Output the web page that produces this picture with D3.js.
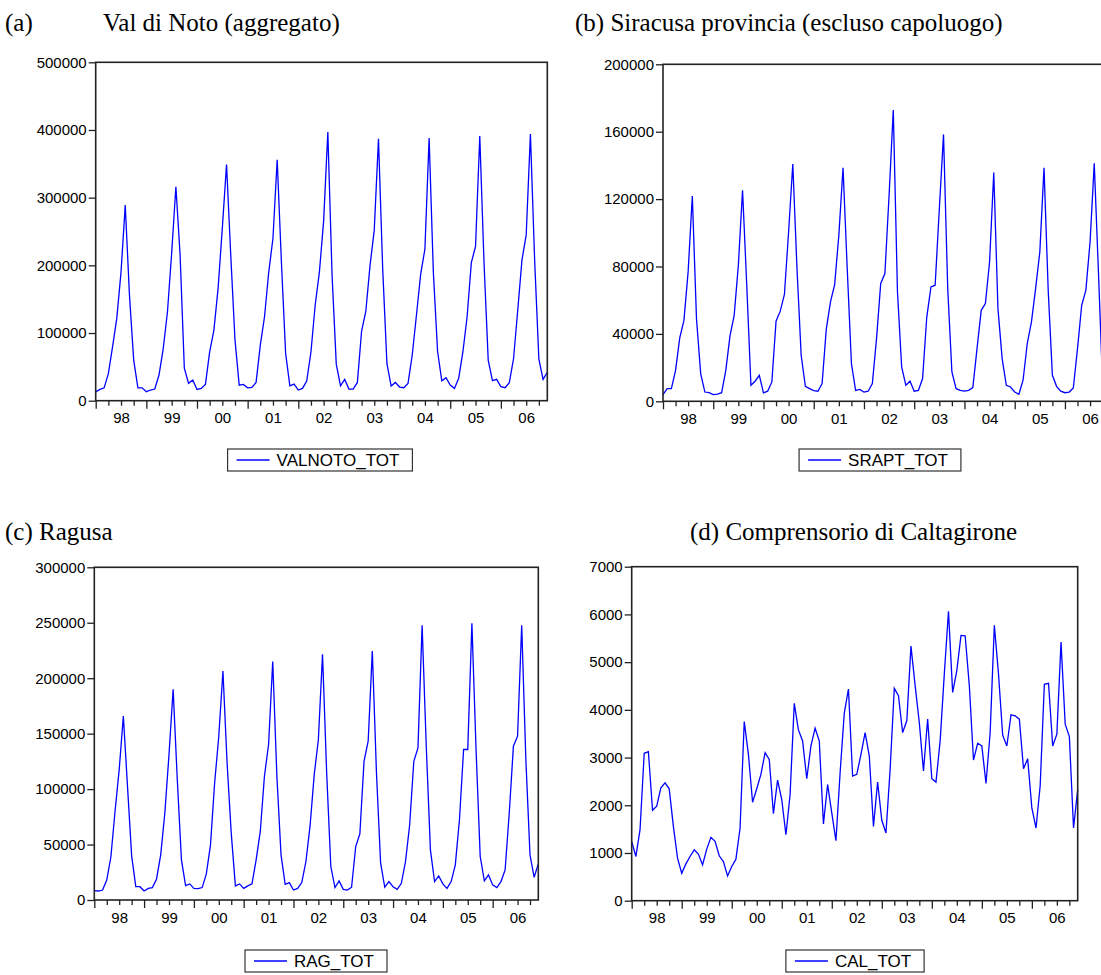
<!DOCTYPE html>
<html lang="it">
<head>
<meta charset="UTF-8">
<title>Val di Noto - serie mensili</title>
<script src="https://d3js.org/d3.v7.min.js"></script>
<style>
    body { margin: 0; background: #fff; }
    svg { display: block; }
    .title { font-family: "Liberation Serif", "Times New Roman", serif; font-size: 25px; fill: #000; }
    .axis text { font-family: "Liberation Sans", Arial, sans-serif; font-size: 15px; fill: #000; }
    .axis line { stroke: #222; stroke-width: 1.3; }
    .legend text { font-family: "Liberation Sans", Arial, sans-serif; font-size: 17px; fill: #000; }
</style>
</head>
<body>
<svg id="chart"></svg>
<script>
    // years on the x axis (monthly data, Jan 1998 - Dec 2006)
    const years = ["98", "99", "00", "01", "02", "03", "04", "05", "06"];

    const valnoto = [
        13000, 16700, 19000, 40000, 80000, 122000, 190000, 289000, 156000, 60000, 19000, 19000,
        13300, 15800, 17200, 38000, 77000, 131000, 218000, 316000, 215000, 48000, 25600, 30500,
        16700, 18200, 24000, 72000, 104000, 166000, 255000, 349000, 215000, 90000, 23000, 24000,
        19000, 19700, 27000, 82000, 124000, 190000, 240000, 356000, 205000, 70000, 22000, 24600,
        15800, 18200, 29000, 72000, 141000, 190000, 265000, 397000, 186000, 54000, 22000, 31500,
        17200, 17200, 27000, 103000, 132000, 200000, 252000, 387000, 195000, 55000, 21700, 27000,
        20200, 19200, 25600, 67500, 126600, 187000, 224000, 388000, 190000, 73000, 29500, 34000,
        23000, 18200, 33000, 72000, 124000, 204000, 228000, 391000, 205000, 60000, 29500, 31500,
        20700, 19200, 26600, 62000, 134000, 208000, 245000, 394000, 208000, 61500, 31500, 42000
    ];

    const srapt = [
        4000, 7500, 7500, 18400, 37600, 48000, 76800, 121800, 49000, 16400, 5500, 5100,
        4000, 4300, 5100, 18400, 38800, 51000, 80800, 125300, 69000, 9500, 11900, 15400,
        5000, 6000, 11500, 47500, 53500, 63400, 100600, 140800, 78800, 27300, 8900, 7500,
        6300, 6000, 10500, 42800, 59000, 69300, 98600, 138600, 78800, 22400, 6500, 7100,
        5500, 6000, 10500, 37200, 69900, 75800, 122400, 172900, 65000, 20400, 9500, 11900,
        6000, 6500, 13500, 50000, 67900, 68900, 114400, 158400, 67000, 17400, 7500, 6500,
        6000, 6500, 8100, 31300, 54000, 58000, 82800, 135800, 55000, 25300, 9500, 8500,
        5500, 4200, 12500, 34300, 47100, 67000, 88700, 138600, 66000, 15400, 8900, 6000,
        5100, 5500, 7900, 31300, 57000, 66000, 94600, 141200, 76800, 10000, 7000, 9000
    ];

    const rag = [
        8400, 8100, 9000, 18000, 39000, 80000, 117600, 165800, 102500, 39800, 12000, 12000,
        8100, 10500, 11200, 19000, 40700, 78400, 131000, 190000, 108500, 36200, 13000, 14500,
        10500, 10300, 11200, 23500, 49700, 105500, 147700, 206500, 123600, 60300, 12700, 14500,
        10500, 12700, 14500, 36200, 61800, 111600, 140200, 215000, 111600, 40700, 14200, 15700,
        9000, 10500, 15700, 34700, 67000, 113000, 144700, 221600, 114600, 30200, 11200, 17200,
        9600, 9000, 11500, 48200, 59700, 125100, 143200, 224600, 114600, 33200, 11500, 16600,
        12000, 9600, 15100, 34700, 67800, 125100, 137200, 247800, 138700, 45200, 16600, 21700,
        14500, 10500, 16600, 31700, 72400, 135700, 135700, 249600, 135700, 39200, 17200, 22600,
        13600, 11200, 16600, 27100, 78400, 138700, 147700, 247800, 126600, 40700, 20500, 32600
    ];

    const cal = [
        1243, 927, 1488, 3089, 3124, 1895, 1980, 2366, 2471, 2345, 1558, 892,
        576, 772, 927, 1067, 976, 751, 1081, 1327, 1243, 941, 821, 519,
        716, 870, 1523, 3756, 3068, 2064, 2345, 2647, 3103, 2962, 1825, 2527,
        2120, 1383, 2225, 4135, 3580, 3349, 2555, 3243, 3615, 3349, 1608, 2436,
        1839, 1257, 2682, 3931, 4437, 2611, 2647, 3068, 3524, 3033, 1558, 2485,
        1685, 1418, 2752, 4451, 4296, 3524, 3770, 5335, 4507, 3735, 2717, 3805,
        2555, 2485, 3349, 4753, 6065, 4366, 4823, 5560, 5553, 4507, 2948, 3299,
        3243, 2457, 3524, 5770, 4753, 3468, 3243, 3896, 3875, 3805, 2766, 2976,
        1945, 1523, 2415, 4535, 4556, 3243, 3489, 5419, 3700, 3440, 1523, 2331
    ];

    const ticksA = [0, 100000, 200000, 300000, 400000, 500000];
    const ticksB = [0, 40000, 80000, 120000, 160000, 200000];
    const ticksC = [0, 50000, 100000, 150000, 200000, 250000, 300000];
    const ticksD = [0, 1000, 2000, 3000, 4000, 5000, 6000, 7000];

    const panels = [
        { series: valnoto, name: "VALNOTO_TOT", ticks: ticksA, left: 95.7, right: 547.3, top: 62.3, bottom: 400.7, legendX: 320, legendY: 449 },
        { series: srapt, name: "SRAPT_TOT", ticks: ticksB, left: 663, right: 1111, top: 64.3, bottom: 401.3, legendX: 880, legendY: 449 },
        { series: rag, name: "RAG_TOT", ticks: ticksC, left: 94.3, right: 538.3, top: 567.3, bottom: 900, legendX: 316, legendY: 950 },
        { series: cal, name: "CAL_TOT", ticks: ticksD, left: 631.7, right: 1077.7, top: 566.7, bottom: 900.7, legendX: 855, legendY: 950 }
    ];

    const W = 1101, H = 975;
    const svg = d3.select("#chart").attr("width", W).attr("height", H);

    // panel titles
    svg.append("text").attr("class", "title").attr("x", 5).attr("y", 31).text("(a)");
    svg.append("text").attr("class", "title").attr("x", 103).attr("y", 31).text("Val di Noto (aggregato)");
    svg.append("text").attr("class", "title").attr("x", 575).attr("y", 31).text("(b) Siracusa provincia (escluso capoluogo)");
    svg.append("text").attr("class", "title").attr("x", 5).attr("y", 540).text("(c) Ragusa");
    svg.append("text").attr("class", "title").attr("x", 690).attr("y", 540).text("(d) Comprensorio di Caltagirone");

    panels.forEach(p => {
        const n = p.series.length;
        const x = d3.scaleLinear().domain([0, n - 1]).range([p.left, p.right]);
        const y = d3.scaleLinear().domain([0, d3.max(p.ticks)]).range([p.bottom, p.top]);
        const g = svg.append("g");

        // y axis
        g.append("g")
            .attr("class", "axis")
            .attr("transform", `translate(${p.left},0)`)
            .call(d3.axisLeft(y).tickValues(p.ticks).tickSize(7).tickPadding(2).tickFormat(d3.format("d")))
            .call(a => a.select(".domain").remove());

        // quarterly minor ticks, yearly major ticks
        const quarters = d3.range(0, n, 3).filter(i => i % 12 !== 0);
        const yearStarts = d3.range(0, n, 12);
        g.append("g")
            .attr("class", "axis")
            .attr("transform", `translate(0,${p.bottom})`)
            .call(d3.axisBottom(x).tickValues(quarters).tickSize(5).tickFormat(""))
            .call(a => a.select(".domain").remove());
        g.append("g")
            .attr("class", "axis")
            .attr("transform", `translate(0,${p.bottom})`)
            .call(d3.axisBottom(x).tickValues(yearStarts).tickSize(8).tickFormat(""))
            .call(a => a.select(".domain").remove());
        // year labels centered in each year
        g.append("g")
            .attr("class", "axis")
            .attr("transform", `translate(0,${p.bottom})`)
            .call(d3.axisBottom(x).tickValues(yearStarts.map(i => i + 6)).tickSize(0).tickPadding(12)
                .tickFormat((d, i) => years[i]))
            .call(a => a.select(".domain").remove());

        // series line
        g.append("path")
            .datum(p.series)
            .attr("fill", "none")
            .attr("stroke", "#0000ff")
            .attr("stroke-width", 1.3)
            .attr("stroke-linejoin", "miter")
            .attr("d", d3.line().x((d, i) => x(i)).y(d => y(d)));

        // frame
        g.append("rect")
            .attr("x", p.left).attr("y", p.top)
            .attr("width", p.right - p.left).attr("height", p.bottom - p.top)
            .attr("fill", "none").attr("stroke", "#222").attr("stroke-width", 1.6);

        // legend
        const lg = g.append("g").attr("class", "legend");
        const box = lg.append("rect").attr("fill", "#fff").attr("stroke", "#333").attr("stroke-width", 1.2);
        const line = lg.append("line").attr("stroke", "#0000ff").attr("stroke-width", 1.3);
        const txt = lg.append("text").text(p.name);
        const tw = txt.node().getComputedTextLength();
        const bw = 9 + 33 + 7 + tw + 13, bh = 22;
        const bx = p.legendX - bw / 2;
        box.attr("x", bx).attr("y", p.legendY).attr("width", bw).attr("height", bh);
        line.attr("x1", bx + 9).attr("x2", bx + 42)
            .attr("y1", p.legendY + bh / 2).attr("y2", p.legendY + bh / 2);
        txt.attr("x", bx + 49).attr("y", p.legendY + bh / 2).attr("dy", "0.35em");
    });
</script>
</body>
</html>
